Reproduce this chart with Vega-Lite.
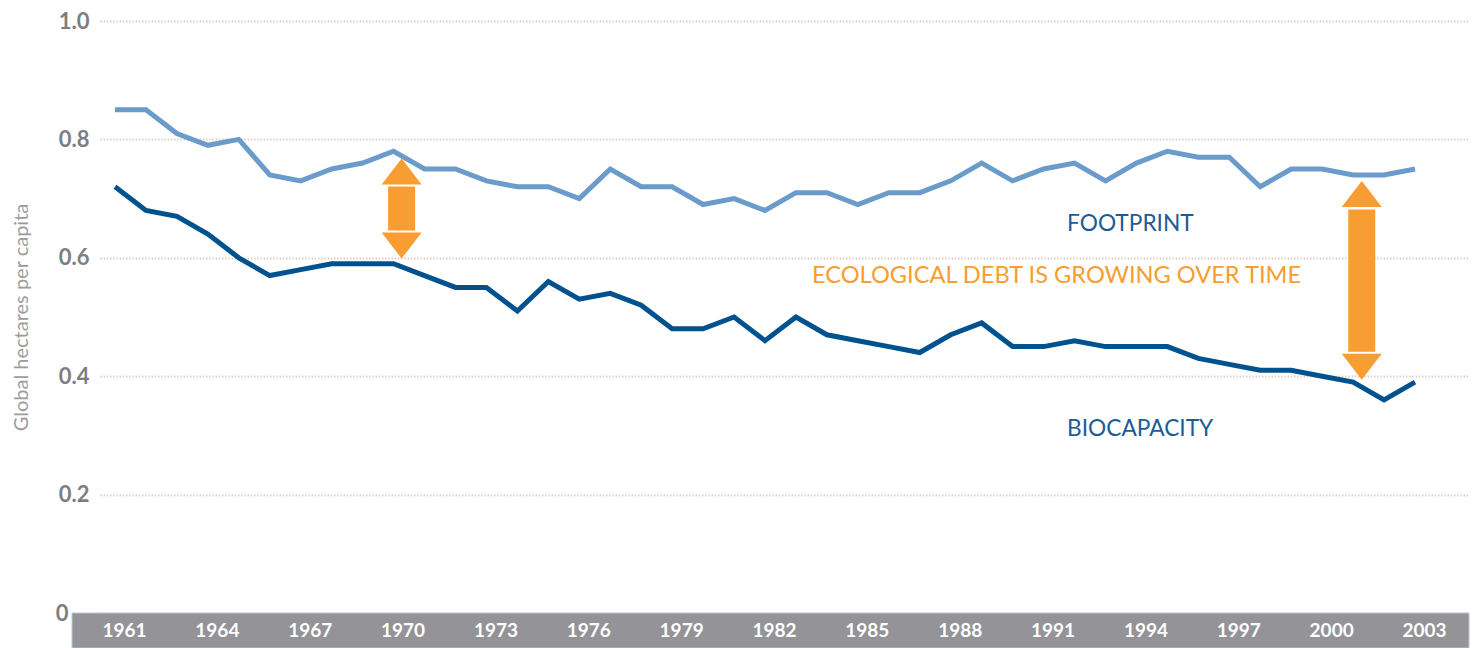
{
  "$schema": "https://vega.github.io/schema/vega-lite/v6.json",
  "width": 1369,
  "height": 592,
  "autosize": "none",
  "padding": {"left": 100, "top": 21, "right": 8, "bottom": 35},
  "background": "white",
  "config": {"view": {"stroke": null}, "font": "Lato"},
  "datasets": {
    "series": [
      {"year": 1961, "series": "Footprint", "value": 0.85},
      {"year": 1962, "series": "Footprint", "value": 0.85},
      {"year": 1963, "series": "Footprint", "value": 0.81},
      {"year": 1964, "series": "Footprint", "value": 0.79},
      {"year": 1965, "series": "Footprint", "value": 0.80},
      {"year": 1966, "series": "Footprint", "value": 0.74},
      {"year": 1967, "series": "Footprint", "value": 0.73},
      {"year": 1968, "series": "Footprint", "value": 0.75},
      {"year": 1969, "series": "Footprint", "value": 0.76},
      {"year": 1970, "series": "Footprint", "value": 0.78},
      {"year": 1971, "series": "Footprint", "value": 0.75},
      {"year": 1972, "series": "Footprint", "value": 0.75},
      {"year": 1973, "series": "Footprint", "value": 0.73},
      {"year": 1974, "series": "Footprint", "value": 0.72},
      {"year": 1975, "series": "Footprint", "value": 0.72},
      {"year": 1976, "series": "Footprint", "value": 0.70},
      {"year": 1977, "series": "Footprint", "value": 0.75},
      {"year": 1978, "series": "Footprint", "value": 0.72},
      {"year": 1979, "series": "Footprint", "value": 0.72},
      {"year": 1980, "series": "Footprint", "value": 0.69},
      {"year": 1981, "series": "Footprint", "value": 0.70},
      {"year": 1982, "series": "Footprint", "value": 0.68},
      {"year": 1983, "series": "Footprint", "value": 0.71},
      {"year": 1984, "series": "Footprint", "value": 0.71},
      {"year": 1985, "series": "Footprint", "value": 0.69},
      {"year": 1986, "series": "Footprint", "value": 0.71},
      {"year": 1987, "series": "Footprint", "value": 0.71},
      {"year": 1988, "series": "Footprint", "value": 0.73},
      {"year": 1989, "series": "Footprint", "value": 0.76},
      {"year": 1990, "series": "Footprint", "value": 0.73},
      {"year": 1991, "series": "Footprint", "value": 0.75},
      {"year": 1992, "series": "Footprint", "value": 0.76},
      {"year": 1993, "series": "Footprint", "value": 0.73},
      {"year": 1994, "series": "Footprint", "value": 0.76},
      {"year": 1995, "series": "Footprint", "value": 0.78},
      {"year": 1996, "series": "Footprint", "value": 0.77},
      {"year": 1997, "series": "Footprint", "value": 0.77},
      {"year": 1998, "series": "Footprint", "value": 0.72},
      {"year": 1999, "series": "Footprint", "value": 0.75},
      {"year": 2000, "series": "Footprint", "value": 0.75},
      {"year": 2001, "series": "Footprint", "value": 0.74},
      {"year": 2002, "series": "Footprint", "value": 0.74},
      {"year": 2003, "series": "Footprint", "value": 0.75},
      {"year": 1961, "series": "Biocapacity", "value": 0.72},
      {"year": 1962, "series": "Biocapacity", "value": 0.68},
      {"year": 1963, "series": "Biocapacity", "value": 0.67},
      {"year": 1964, "series": "Biocapacity", "value": 0.64},
      {"year": 1965, "series": "Biocapacity", "value": 0.60},
      {"year": 1966, "series": "Biocapacity", "value": 0.57},
      {"year": 1967, "series": "Biocapacity", "value": 0.58},
      {"year": 1968, "series": "Biocapacity", "value": 0.59},
      {"year": 1969, "series": "Biocapacity", "value": 0.59},
      {"year": 1970, "series": "Biocapacity", "value": 0.59},
      {"year": 1971, "series": "Biocapacity", "value": 0.57},
      {"year": 1972, "series": "Biocapacity", "value": 0.55},
      {"year": 1973, "series": "Biocapacity", "value": 0.55},
      {"year": 1974, "series": "Biocapacity", "value": 0.51},
      {"year": 1975, "series": "Biocapacity", "value": 0.56},
      {"year": 1976, "series": "Biocapacity", "value": 0.53},
      {"year": 1977, "series": "Biocapacity", "value": 0.54},
      {"year": 1978, "series": "Biocapacity", "value": 0.52},
      {"year": 1979, "series": "Biocapacity", "value": 0.48},
      {"year": 1980, "series": "Biocapacity", "value": 0.48},
      {"year": 1981, "series": "Biocapacity", "value": 0.50},
      {"year": 1982, "series": "Biocapacity", "value": 0.46},
      {"year": 1983, "series": "Biocapacity", "value": 0.50},
      {"year": 1984, "series": "Biocapacity", "value": 0.47},
      {"year": 1985, "series": "Biocapacity", "value": 0.46},
      {"year": 1986, "series": "Biocapacity", "value": 0.45},
      {"year": 1987, "series": "Biocapacity", "value": 0.44},
      {"year": 1988, "series": "Biocapacity", "value": 0.47},
      {"year": 1989, "series": "Biocapacity", "value": 0.49},
      {"year": 1990, "series": "Biocapacity", "value": 0.45},
      {"year": 1991, "series": "Biocapacity", "value": 0.45},
      {"year": 1992, "series": "Biocapacity", "value": 0.46},
      {"year": 1993, "series": "Biocapacity", "value": 0.45},
      {"year": 1994, "series": "Biocapacity", "value": 0.45},
      {"year": 1995, "series": "Biocapacity", "value": 0.45},
      {"year": 1996, "series": "Biocapacity", "value": 0.43},
      {"year": 1997, "series": "Biocapacity", "value": 0.42},
      {"year": 1998, "series": "Biocapacity", "value": 0.41},
      {"year": 1999, "series": "Biocapacity", "value": 0.41},
      {"year": 2000, "series": "Biocapacity", "value": 0.40},
      {"year": 2001, "series": "Biocapacity", "value": 0.39},
      {"year": 2002, "series": "Biocapacity", "value": 0.36},
      {"year": 2003, "series": "Biocapacity", "value": 0.39}
    ],
    "arrows": [
      {"year": 1970.26, "headTop": 0.7458, "headBottom": 0.6207, "shaftTop": 0.7204, "shaftBottom": 0.646},
      {"year": 2001.28, "headTop": 0.7078, "headBottom": 0.416, "shaftTop": 0.6815, "shaftBottom": 0.4414}
    ],
    "blueLabels": [
      {"year": 1991.76, "value": 0.657, "label": "FOOTPRINT"},
      {"year": 1991.76, "value": 0.311, "label": "BIOCAPACITY"}
    ],
    "orangeLabels": [
      {"year": 1983.52, "value": 0.569, "label": "ECOLOGICAL DEBT IS GROWING OVER TIME"}
    ]
  },
  "layer": [
    {
      "data": {"name": "series"},
      "mark": {"type": "line", "strokeWidth": 5, "strokeJoin": "miter"},
      "encoding": {
        "x": {
          "field": "year",
          "type": "quantitative",
          "scale": {"domain": [1960.515, 2004.745], "nice": false, "zero": false},
          "axis": {
            "title": null,
            "values": [1961, 1964, 1967, 1970, 1973, 1976, 1979, 1982, 1985, 1988, 1991, 1994, 1997, 2000, 2003],
            "format": "d",
            "domain": false,
            "ticks": false,
            "tickSize": 0,
            "grid": false,
            "labelPadding": 17.5,
            "labelOffset": 9,
            "labelBaseline": "middle",
            "labelColor": "#ffffff",
            "labelFont": "Lato",
            "labelFontWeight": "bold",
            "labelFontSize": 19,
            "labelOverlap": false,
            "zindex": 2
          }
        },
        "y": {
          "field": "value",
          "type": "quantitative",
          "scale": {"domain": [0, 1], "nice": false, "zero": true},
          "axis": {
            "title": "Global hectares per capita",
            "titleFont": "Lato",
            "titleFontSize": 20,
            "titleFontWeight": "normal",
            "titleColor": "#9c9c9c",
            "titlePadding": 24,
            "values": [0, 0.2, 0.4, 0.6, 0.8, 1],
            "labelExpr": "datum.value == 0 ? '0' : format(datum.value, '.1f')",
            "domain": false,
            "ticks": false,
            "tickSize": 0,
            "labelPadding": {"condition": {"test": "datum.value == 0", "value": 32}, "value": 11},
            "labelColor": "#7e7e82",
            "labelFont": "Lato",
            "labelFontWeight": "bold",
            "labelFontSize": 22,
            "labelBaseline": "middle",
            "grid": true,
            "gridColor": "#d3c6b0",
            "gridDash": [1.2, 2],
            "gridWidth": 2,
            "zindex": 0
          }
        },
        "color": {
          "field": "series",
          "type": "nominal",
          "scale": {"domain": ["Footprint", "Biocapacity"], "range": ["#6a9bcb", "#00528f"]},
          "legend": null
        },
        "detail": {"field": "series"}
      }
    },
    {
      "data": {"values": [{}]},
      "mark": {"type": "rect", "color": "#939398", "stroke": "#b7cbcb", "strokeWidth": 1},
      "encoding": {
        "x": {"datum": 1959.611, "type": "quantitative"},
        "x2": {"datum": 2004.745},
        "y": {"datum": 0, "type": "quantitative"},
        "y2": {"datum": -0.0592}
      }
    },
    {
      "data": {"name": "arrows"},
      "mark": {"type": "rule", "color": "#f89d31", "strokeWidth": 27, "strokeCap": "butt"},
      "encoding": {
        "x": {"field": "year", "type": "quantitative"},
        "y": {"field": "shaftTop", "type": "quantitative"},
        "y2": {"field": "shaftBottom"}
      }
    },
    {
      "data": {"name": "arrows"},
      "mark": {"type": "point", "shape": "M0,-0.65L1,0.65L-1,0.65Z", "size": 1600, "filled": true, "color": "#f89d31", "opacity": 1, "strokeWidth": 0},
      "encoding": {
        "x": {"field": "year", "type": "quantitative"},
        "y": {"field": "headTop", "type": "quantitative"}
      }
    },
    {
      "data": {"name": "arrows"},
      "mark": {"type": "point", "shape": "M-1,-0.65L1,-0.65L0,0.65Z", "size": 1600, "filled": true, "color": "#f89d31", "opacity": 1, "strokeWidth": 0},
      "encoding": {
        "x": {"field": "year", "type": "quantitative"},
        "y": {"field": "headBottom", "type": "quantitative"}
      }
    },
    {
      "data": {"name": "blueLabels"},
      "mark": {"type": "text", "align": "left", "baseline": "middle", "font": "Lato", "fontSize": 22.7, "color": "#1d5b94"},
      "encoding": {
        "x": {"field": "year", "type": "quantitative"},
        "y": {"field": "value", "type": "quantitative"},
        "text": {"field": "label"}
      }
    },
    {
      "data": {"name": "orangeLabels"},
      "mark": {"type": "text", "align": "left", "baseline": "middle", "font": "Lato", "fontSize": 23.6, "color": "#f89d31"},
      "encoding": {
        "x": {"field": "year", "type": "quantitative"},
        "y": {"field": "value", "type": "quantitative"},
        "text": {"field": "label"}
      }
    }
  ]
}
